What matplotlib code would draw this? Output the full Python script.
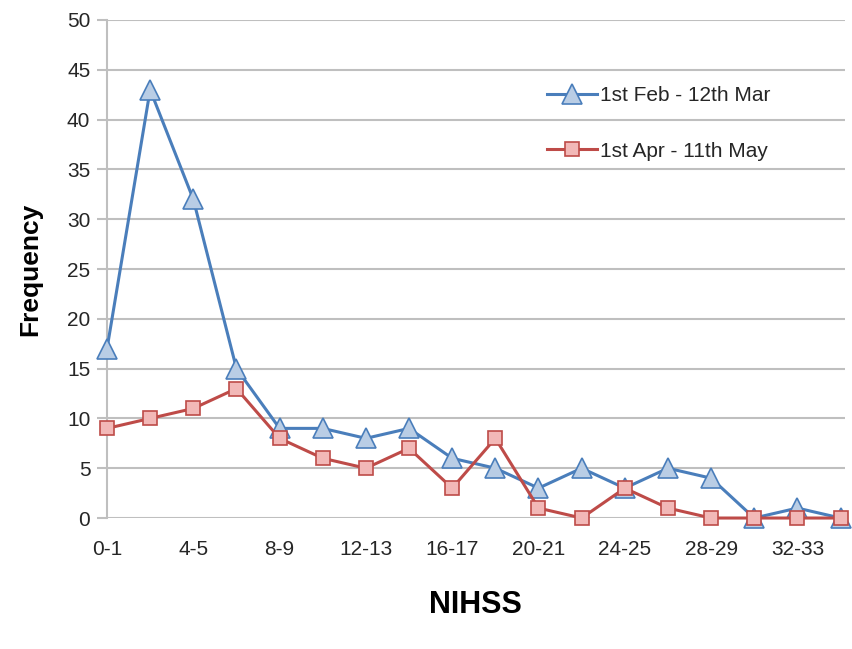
import matplotlib
matplotlib.use("Agg")
import matplotlib.pyplot as plt
import numpy as np

# NIHSS categories and frequencies
categories = ["0-1", "2-3", "4-5", "6-7", "8-9", "10-11", "12-13", "14-15", "16-17",
              "18-19", "20-21", "22-23", "24-25", "26-27", "28-29", "30-31", "32-33", "34-35"]
feb_mar = [17, 43, 32, 15, 9, 9, 8, 9, 6, 5, 3, 5, 3, 5, 4, 0, 1, 0]
apr_may = [9, 10, 11, 13, 8, 6, 5, 7, 3, 8, 1, 0, 3, 1, 0, 0, 0, 0]
series_labels = ["1st Feb - 12th Mar", "1st Apr - 11th May"]

tick_font = "Liberation Sans"

fig = plt.figure(figsize=(8.52, 6.49), dpi=100)
ax = fig.add_axes([0.1256, 0.2018, 0.866, 0.7674])

x = np.arange(len(categories))

ax.plot(x, feb_mar, color="#4A7EBB", linewidth=2.2, marker="^", markersize=14,
        markerfacecolor="#B9CDE5", markeredgecolor="#4A7EBB", markeredgewidth=1.2,
        label=series_labels[0], zorder=3, clip_on=False)
ax.plot(x, apr_may, color="#BE4B48", linewidth=2.2, marker="s", markersize=10,
        markerfacecolor="#F2B8B7", markeredgecolor="#BE4B48", markeredgewidth=1.2,
        label=series_labels[1], zorder=4, clip_on=False)

ax.set_ylim(0, 50)
ax.set_xlim(0, 17.1)
ax.set_yticks(np.arange(0, 51, 5))
ax.yaxis.grid(True, color="#BFBFBF", linewidth=1.5)
ax.set_axisbelow(True)

# labels every 2 categories, tick marks every 4
ax.set_xticks(x[::2])
ax.set_xticklabels(categories[::2], fontsize=15, family=tick_font, color="#262626")
ax.set_xticks(x[::4], minor=True)
ax.tick_params(axis="x", which="major", length=0, pad=16)
ax.tick_params(axis="x", which="minor", length=8, color="#868686", width=1)
ax.tick_params(axis="y", length=7, color="#BFBFBF", width=1.5, pad=5)
for lab in ax.get_yticklabels():
    lab.set_fontsize(15)
    lab.set_family(tick_font)
    lab.set_color("#262626")

for s in ["top", "right", "bottom"]:
    ax.spines[s].set_visible(False)
ax.spines["left"].set_color("#BFBFBF")
ax.spines["left"].set_linewidth(1.5)

ax.set_xlabel("NIHSS", fontsize=22, fontweight="bold", family=tick_font, labelpad=22)
ax.set_ylabel("Frequency", fontsize=19, fontweight="bold", family=tick_font, labelpad=18)

leg = ax.legend(loc="upper right", bbox_to_anchor=(0.925, 0.905), frameon=False,
                prop={"family": tick_font, "size": 15}, labelspacing=1.75,
                handlelength=2.4, handletextpad=0.15)
for t in leg.get_texts():
    t.set_color("#262626")

fig.savefig("out.png", dpi=100)
